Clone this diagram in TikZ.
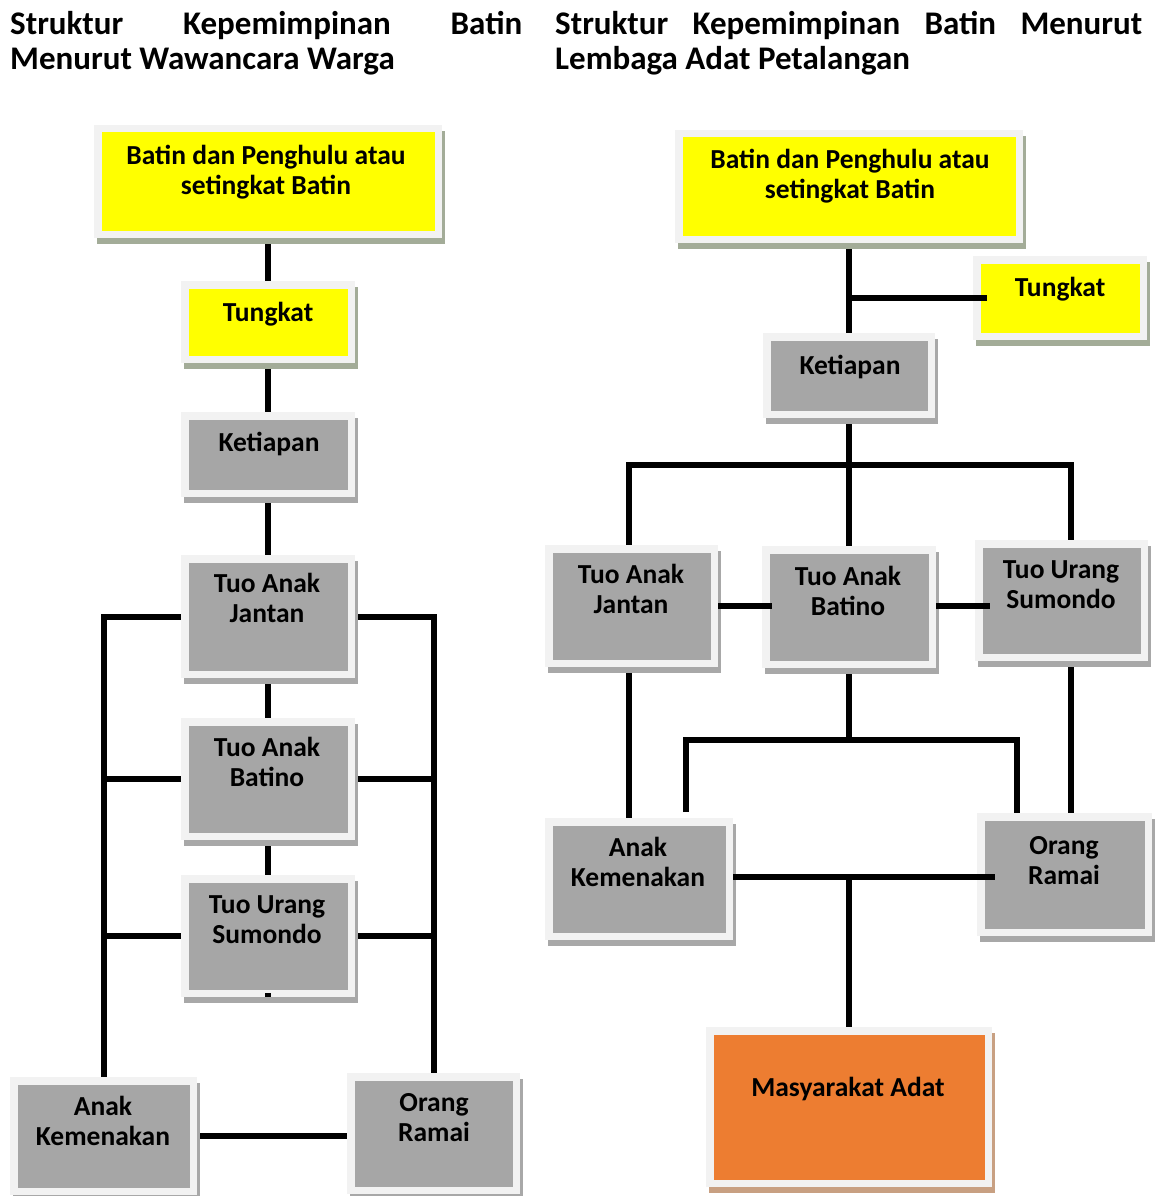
\documentclass[tikz,border=0pt]{standalone}
\usepackage{fontspec}
\setmainfont{Carlito}
\usetikzlibrary{calc,backgrounds}
\definecolor{framec}{HTML}{F2F2F2}
\definecolor{yel}{HTML}{FFFF00}
\definecolor{gry}{HTML}{A6A6A6}
\definecolor{org}{HTML}{ED7D31}
\definecolor{yshad}{HTML}{A3AC98}
\definecolor{gshad}{HTML}{A8A8A8}
\definecolor{oshad}{HTML}{C8A082}
\tikzset{
  conn/.style={line width=6pt, draw=black},
  boxtext/.style={font=\bfseries\fontsize{27.5}{29.5}\selectfont, align=center, anchor=base, inner sep=0pt},
  titletext/.style={font=\bfseries\fontsize{33}{35}\selectfont, anchor=base west, inner sep=0pt},
  frbox/.style={draw=framec, line width=7.5pt, inner sep=0pt, anchor=north west}
}
\newcommand\mkbox[7]{%
  \fill[#7] (#2+3,#3+6) rectangle (#4+3,#5+6);
  \node[frbox, fill=#6, minimum width={#4-#2-7.5}, minimum height={#5-#3-7.5}] (#1) at (#2,#3) {};
}
\begin{document}
\begin{tikzpicture}[x=1pt,y=-1pt]
\useasboundingbox (0,0) rectangle (1160,1196);
% titles
\node[titletext] (T1) at (10,35) {\makebox[512pt][s]{Struktur Kepemimpinan Batin}};
\node[titletext] (T2) at (10,70) {Menurut Wawancara Warga};
\node[titletext] (T3) at (555,35) {\makebox[587pt][s]{Struktur Kepemimpinan Batin Menurut}};
\node[titletext] (T4) at (555,70) {Lembaga Adat Petalangan};
% left boxes
\mkbox{L1}{94}{125}{442}{238}{yel}{yshad}
\mkbox{L2}{181}{281}{355}{363}{yel}{yshad}
\mkbox{L3}{181}{412}{355}{497}{gry}{gshad}
\mkbox{L4}{181}{555}{355}{678}{gry}{gshad}
\mkbox{L5}{181}{718}{355}{840}{gry}{gshad}
\mkbox{L6}{181}{875}{355}{997}{gry}{gshad}
\mkbox{L7}{10}{1077}{197}{1195}{gry}{gshad}
\mkbox{L8}{347}{1073}{520}{1194}{gry}{gshad}
% right boxes
\mkbox{R1}{675}{130}{1023}{243}{yel}{yshad}
\mkbox{R2}{973}{256}{1147}{340}{yel}{yshad}
\mkbox{R3}{763}{333}{935}{418}{gry}{gshad}
\mkbox{R4}{545}{545}{718}{667}{gry}{gshad}
\mkbox{R5}{762}{546}{936}{668}{gry}{gshad}
\mkbox{R6}{975}{540}{1148}{661}{gry}{gshad}
\mkbox{R7}{545}{818}{733}{940}{gry}{gshad}
\mkbox{R8}{977}{813}{1152}{936}{gry}{gshad}
\mkbox{R9}{706}{1027}{992}{1187}{org}{oshad}
% texts left (y = baseline of last line)
\node[boxtext] (L1t) at (266,194) {Batin dan Penghulu atau\\setingkat Batin};
\node[boxtext] (L2t) at (268,321) {Tungkat};
\node[boxtext] (L3t) at (269,451) {Ketiapan};
\node[boxtext] (L4t) at (267,622) {Tuo Anak\\Jantan};
\node[boxtext] (L5t) at (267,786) {Tuo Anak\\Batino};
\node[boxtext] (L6t) at (267,943) {Tuo Urang\\Sumondo};
\node[boxtext] (L7t) at (103,1145) {Anak\\Kemenakan};
\node[boxtext] (L8t) at (434,1141) {Orang\\Ramai};
% texts right
\node[boxtext] (R1t) at (850,198) {Batin dan Penghulu atau\\setingkat Batin};
\node[boxtext] (R2t) at (1060,296) {Tungkat};
\node[boxtext] (R3t) at (850,374) {Ketiapan};
\node[boxtext] (R4t) at (631,613) {Tuo Anak\\Jantan};
\node[boxtext] (R5t) at (848,615) {Tuo Anak\\Batino};
\node[boxtext] (R6t) at (1061,608) {Tuo Urang\\Sumondo};
\node[boxtext] (R7t) at (638,886) {Anak\\Kemenakan};
\node[boxtext] (R8t) at (1064,884) {Orang\\Ramai};
\node[boxtext] (R9t) at (848,1096) {Masyarakat Adat};
% junction coordinates
\coordinate (j1) at (849,465);
\coordinate (bL) at (629,465);
\coordinate (bR) at (1071,465);
\coordinate (j2) at (849,740);
\coordinate (b2L) at (686,740);
\coordinate (b2R) at (1017,740);
\coordinate (jB) at (849,877);
\coordinate (jT) at (R3.north |- R2.west);
% connectors below boxes
\begin{scope}[on background layer]
  \draw[conn] (L1.south) -- (L2.north);
  \draw[conn] (L2.south) -- (L3.north);
  \draw[conn] (L3.south) -- (L4.north);
  \draw[conn] (L4.south) -- (L5.north);
  \draw[conn] (L5.south) -- (L6.north);
  \draw[conn] (L4.west) -| (L7.north);
  \draw[conn] (L5.west) -- (L5.west -| L7.north);
  \draw[conn] (L6.west) -- (L6.west -| L7.north);
  \draw[conn] (L4.east) -| (L8.north);
  \draw[conn] (L5.east) -- (L5.east -| L8.north);
  \draw[conn] (L6.east) -- (L6.east -| L8.north);
  \draw[conn] (L7.east) -- (L7.east -| L8.west);
  \draw[conn] (R1.south) -- (R3.north);
  \draw[conn] (R3.south) -- (j1);
  \draw[conn] (R4.north -| bL) -- (bL) -- (bR) -- (R6.north -| bR);
  \draw[conn] (j1) -- (R5.north);
  \draw[conn] (R4.south -| bL) -- (R7.north -| bL);
  \draw[conn] (R5.south) -- (j2);
  \draw[conn] ($(R7.north -| b2L)+(0,-6)$) -- (b2L) -- (b2R) -- (R8.north -| b2R);
  \draw[conn] (R6.south -| bR) -- (R8.north -| bR);
  \draw[conn] (jB) -- (R9.north);
\end{scope}
% connectors over frames
\draw[conn] (jT) -- ($(R2.west)+(14,0)$);
\draw[conn] (R4.east) -- ($(R4.east -| R5.west)+(10,0)$);
\draw[conn] (R5.east |- R4.east) -- ($(R6.west |- R4.east)+(15,0)$);
\draw[conn] (R7.east |- jB) -- ($(R8.west |- jB)+(18,0)$);
\draw[conn] ($(L6.south)+(0,-4)$) -- (L6.south);
\end{tikzpicture}
\end{document}
